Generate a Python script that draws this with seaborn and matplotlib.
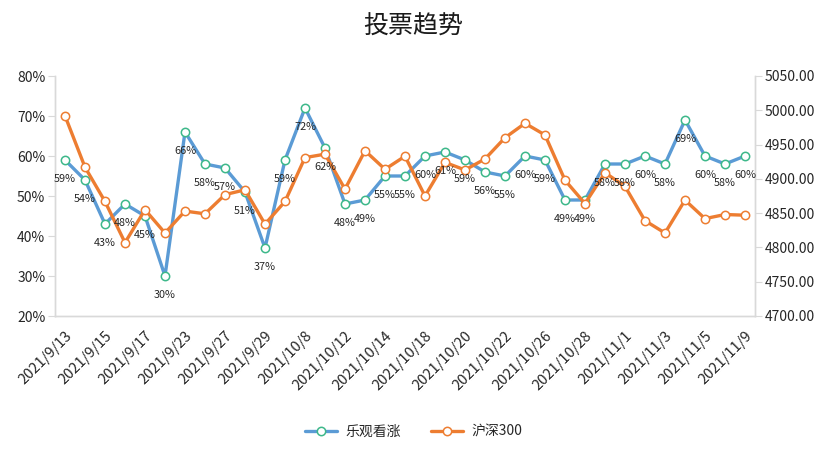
import matplotlib
matplotlib.use("Agg")
import matplotlib.pyplot as plt
import seaborn as sns
import pandas as pd
import numpy as np
from matplotlib.ticker import FuncFormatter, MultipleLocator

dates = ["2021/9/13", "2021/9/14", "2021/9/15", "2021/9/16", "2021/9/17",
         "2021/9/22", "2021/9/23", "2021/9/24", "2021/9/27", "2021/9/28",
         "2021/9/29", "2021/9/30", "2021/10/8", "2021/10/11", "2021/10/12",
         "2021/10/13", "2021/10/14", "2021/10/15", "2021/10/18", "2021/10/19",
         "2021/10/20", "2021/10/21", "2021/10/22", "2021/10/25", "2021/10/26",
         "2021/10/27", "2021/10/28", "2021/10/29", "2021/11/1", "2021/11/2",
         "2021/11/3", "2021/11/4", "2021/11/5", "2021/11/8", "2021/11/9"]

bullish = [59, 54, 43, 48, 45, 30, 66, 58, 57, 51, 37, 59, 72, 62, 48, 49, 55, 55,
           60, 61, 59, 56, 55, 60, 59, 49, 49, 58, 58, 60, 58, 69, 60, 58, 60]

csi300 = [4992, 4917, 4867, 4807, 4855, 4821, 4853, 4849, 4877, 4884, 4834, 4867,
          4931, 4936, 4885, 4941, 4914, 4933, 4875, 4924, 4913, 4929, 4960, 4981,
          4964, 4898, 4864, 4909, 4889, 4839, 4821, 4869, 4842, 4848, 4847]

series1_name = "乐观看涨"
series2_name = "沪深300"
title = "投票趋势"

sns.set_theme(style="white")
plt.rcParams["font.family"] = ["Noto Sans CJK SC", "DejaVu Sans"]

df = pd.DataFrame({"idx": np.arange(len(dates)), "date": dates,
                   "bullish": np.array(bullish) / 100.0, "csi300": csi300})

fig = plt.figure(figsize=(8.27, 4.73), dpi=100)
ax = fig.add_axes([55 / 827, 1 - 316 / 473, 700 / 827, 240 / 473])
ax2 = ax.twinx()

blue = "#5B9BD5"
orange = "#ED7D31"
green_edge = "#3DB88A"

sns.lineplot(data=df, x="idx", y="bullish", ax=ax, color=blue, linewidth=2.4,
             marker="o", markersize=6, markerfacecolor="white",
             markeredgecolor=green_edge, markeredgewidth=1.1, label=series1_name,
             legend=False)
sns.lineplot(data=df, x="idx", y="csi300", ax=ax2, color=orange, linewidth=2.4,
             marker="o", markersize=6, markerfacecolor="white",
             markeredgecolor=orange, markeredgewidth=1.1, label=series2_name,
             legend=False)

ax.set_xlim(-0.5, len(dates) - 0.5)
ax.set_ylim(0.2, 0.8)
ax2.set_ylim(4700, 5050)
ax.yaxis.set_major_locator(MultipleLocator(0.1))
ax2.yaxis.set_major_locator(MultipleLocator(50))
ax.yaxis.set_major_formatter(FuncFormatter(lambda v, p: f"{round(v * 100):d}%"))
ax2.yaxis.set_major_formatter(FuncFormatter(lambda v, p: f"{v:.2f}"))

ax.set_xticks(df["idx"][::2])
ax.set_xticklabels(df["date"][::2], rotation=45, ha="right", va="top",
                   rotation_mode="anchor", fontsize=10.5, color="#262626")
ax.tick_params(axis="x", length=0, pad=9)
ax.tick_params(axis="y", length=5, width=0.8, color="#D9D9D9", labelsize=10,
               labelcolor="#262626", pad=2)
ax2.tick_params(axis="y", length=5, width=0.8, color="#D9D9D9", labelsize=10,
                labelcolor="#262626", pad=2)

for a in (ax, ax2):
    a.set_xlabel("")
    a.set_ylabel("")
    a.grid(False)
    a.spines["top"].set_visible(False)
    for s in ("left", "right", "bottom"):
        a.spines[s].set_color("#D9D9D9")
        a.spines[s].set_linewidth(1.0)

for i, v in enumerate(bullish):
    ax2.annotate(f"{v}%", xy=(i, v / 100.0), xycoords=ax.transData,
                 xytext=(0, -19), textcoords="offset pixels",
                 ha="center", va="center", fontsize=7.8, color="#262626",
                 zorder=10)

fig.text(0.5, 1 - 27 / 473, title, ha="center", va="center", fontsize=18,
         color="#1a1a1a")

h1, l1 = ax.get_legend_handles_labels()
h2, l2 = ax2.get_legend_handles_labels()
fig.legend(h1 + h2, l1 + l2, loc="center", bbox_to_anchor=(0.5, 1 - 432 / 473),
           ncol=2, frameon=False, fontsize=10, handlelength=2.3,
           columnspacing=2.2, handletextpad=0.6)

fig.savefig("out.png", dpi=100)
